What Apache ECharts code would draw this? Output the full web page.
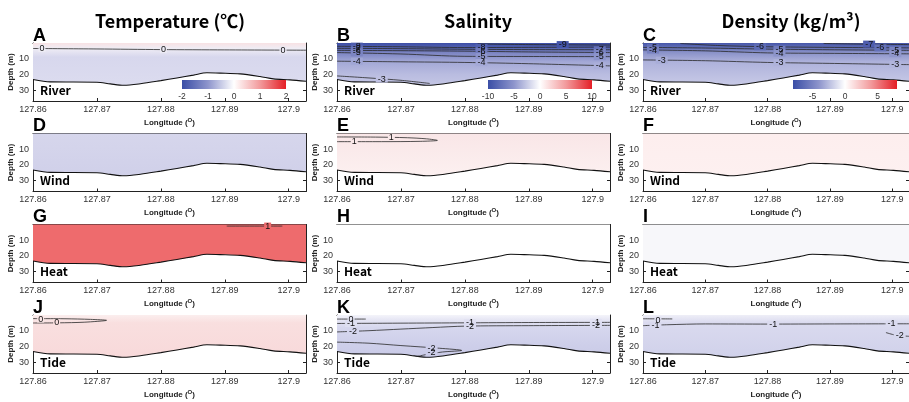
<!DOCTYPE html>
<html>
<head>
<meta charset="utf-8">
<script src="https://cdn.jsdelivr.net/npm/echarts@6/dist/echarts.min.js"></script>
<style>html,body{margin:0;padding:0;background:#fff}#chart{width:909px;height:402px}</style>
</head>
<body>
<div id="chart"></div>
<script>
// bathymetry along the section
const lon = [127.86, 127.8627, 127.87, 127.8721, 127.8742, 127.8768, 127.88, 127.8825, 127.8851, 127.8872, 127.8893, 127.8924, 127.8955, 127.8976, 127.9002, 127.9027]
const bottomDepth = [23.3, 24.8, 25.0, 26.1, 27.0, 26.0, 24.0, 22.3, 20.5, 19.0, 19.2, 19.7, 21.4, 22.9, 23.5, 24.4]
const lonMin = 127.86, lonMax = 127.9027
const depthMax = 37

const colTitles = ['Temperature (℃)', 'Salinity', 'Density (kg/m³)']
const letters = ['A', 'B', 'C', 'D', 'E', 'F', 'G', 'H', 'I', 'J', 'K', 'L']
const forcing = ['River', 'Wind', 'Heat', 'Tide']

// colorbar ranges and labelled ticks
const cbarRange = [[-2, 2], [-10, 10], [-8, 8]]
const cbarTicks = [[-2, -1, 0, 1, 2], [-10, -5, 0, 5, 10], [-5, 0, 5]]

// contour lines [lon, depth]
const tA0 = [[127.86, 3.5], [127.87, 3.8], [127.88, 4.2], [127.89, 4.4], [127.9027, 4.6]]
const tA_lab = [['0', 127.8614, 3.4], ['0', 127.8804, 4.2], ['0', 127.8991, 4.5]]

const sB9 = [[127.882, 0.6], [127.89, 1.0], [127.9027, 1.3]]
const sB8 = [[127.86, 2.1], [127.87, 2.4], [127.88, 2.9], [127.89, 2.8], [127.9027, 2.6]]
const sB7 = [[127.86, 3.4], [127.87, 3.6], [127.88, 4.0], [127.89, 4.2], [127.9027, 4.3]]
const sB6 = [[127.86, 4.7], [127.87, 4.9], [127.88, 5.2], [127.89, 5.7], [127.9027, 6.1]]
const sB5 = [[127.86, 6.1], [127.87, 7.0], [127.88, 8.5], [127.89, 8.6], [127.9027, 8.7]]
const sB4 = [[127.86, 11.6], [127.87, 12.0], [127.88, 12.4], [127.89, 13.2], [127.9027, 14.6]]
const sB3 = [[127.86, 21.0], [127.865, 22.3], [127.87, 23.8], [127.8745, 25.8]]
const sB_lab = [['-8', 127.8631, 2.0], ['-7', 127.8631, 3.4], ['-6', 127.8631, 4.8], ['-5', 127.8631, 6.3], ['-4', 127.8631, 11.6],
  ['-8', 127.8826, 2.9], ['-6', 127.8826, 5.2], ['-5', 127.8826, 8.6], ['-4', 127.8826, 12.5],
  ['-7', 127.9011, 4.3], ['-6', 127.9011, 6.1], ['-5', 127.9011, 8.7], ['-4', 127.9011, 14.5],
  ['-9', 127.8953, 1.0], ['-3', 127.867, 23.0]]

const dC7 = [[127.889, 0.3], [127.895, 0.7], [127.9027, 1.0]]
const dC6 = [[127.866, 0.3], [127.872, 1.6], [127.88, 2.4], [127.89, 2.8], [127.9027, 3.1]]
const dC5 = [[127.86, 2.8], [127.87, 3.2], [127.88, 3.9], [127.89, 4.3], [127.9027, 4.7]]
const dC4 = [[127.86, 4.4], [127.87, 5.0], [127.88, 6.3], [127.89, 6.6], [127.9027, 6.9]]
const dC3 = [[127.86, 10.8], [127.87, 11.3], [127.88, 12.4], [127.89, 13.0], [127.9027, 13.8]]
const dC_lab = [['-5', 127.8616, 2.8], ['-4', 127.8616, 4.5], ['-3', 127.863, 11.0],
  ['-6', 127.8788, 2.4], ['-5', 127.8819, 4.0], ['-4', 127.8819, 6.4], ['-3', 127.8819, 12.5],
  ['-7', 127.8963, 0.7], ['-6', 127.8981, 3.1], ['-5', 127.9005, 4.6], ['-4', 127.9005, 6.8], ['-3', 127.9005, 13.7]]

const sE1 = [[127.86, 2.2], [127.866, 2.3], [127.871, 2.7], [127.874, 3.4], [127.8757, 4.4], [127.873, 5.0], [127.867, 5.2], [127.86, 5.2]]
const sE_lab = [['1', 127.8685, 2.5], ['1', 127.8627, 5.2]]

const tG1 = [[127.8903, 1.0], [127.899, 1.0]]
const tG_lab = [['1', 127.8967, 1.0]]

const tJ0 = [[127.86, 2.3], [127.865, 2.4], [127.869, 2.8], [127.8715, 3.4], [127.868, 4.6], [127.864, 5.0], [127.86, 5.1]]
const tJ_lab = [['0', 127.8612, 2.6], ['0', 127.8637, 5.0]]

const sK0 = [[127.86, 2.6], [127.8645, 2.6]]
const sK1 = [[127.86, 5.4], [127.87, 5.2], [127.88, 5.0], [127.89, 4.8], [127.9027, 4.7]]
const sK2 = [[127.86, 10.8], [127.865, 10.0], [127.87, 9.0], [127.875, 8.0], [127.88, 7.1], [127.89, 6.8], [127.9027, 6.6]]
const sK2b = [[127.86, 17.3], [127.865, 18.0], [127.87, 19.5], [127.876, 21.2], [127.8795, 22.6], [127.8765, 23.6], [127.874, 25.2], [127.8725, 26.5]]
const sK_lab = [['0', 127.8622, 3.0], ['-1', 127.8622, 5.4], ['-2', 127.8625, 10.8], ['-1', 127.8808, 5.0], ['-2', 127.8808, 7.1],
  ['-1', 127.9005, 4.7], ['-2', 127.9005, 6.6], ['-2', 127.8748, 21.2], ['-2', 127.8748, 24.0]]

const dL0 = [[127.86, 2.4], [127.8647, 2.5]]
const dL1 = [[127.86, 6.8], [127.864, 6.2], [127.87, 5.7], [127.88, 5.8], [127.89, 5.7], [127.9027, 5.6]]
const dL2 = [[127.899, 11.2], [127.9005, 12.8], [127.9027, 13.6]]
const dL_lab = [['0', 127.8624, 3.4], ['-1', 127.862, 6.8], ['-1', 127.8809, 5.9], ['-1', 127.8999, 5.7], ['-2', 127.9012, 13.0]]

// fill colour stops [depth, colour] for each panel
const panelFill = [
  [[0, '#f8e2e4'], [3.5, '#efedf5'], [9, '#d7d7ed'], [27, '#dcdcef']],
  [[0, '#3d4ea6'], [3, '#5362b0'], [6, '#7a83c2'], [12, '#a3a8d6'], [20, '#b9bce0'], [27, '#c4c6e5']],
  [[0, '#4656aa'], [3, '#6370b6'], [6, '#8a92c9'], [12, '#aeb2db'], [27, '#c8cae7']],
  [[0, '#d6d6ec'], [27, '#d0d0e9']],
  [[0, '#f9e6e7'], [27, '#fcf0f0']],
  [[0, '#fdeeee'], [27, '#fdf0f0']],
  [[0, '#ee6b6d'], [27, '#ee6b6d']],
  [[0, '#ffffff'], [27, '#ffffff']],
  [[0, '#f7f7fa'], [27, '#f7f7fa']],
  [[0, '#fbeeee'], [5, '#f9dfdf'], [27, '#f8d9da']],
  [[0, '#f4f4fa'], [3, '#e6e6f4'], [8, '#d6d7ee'], [20, '#cdcee9'], [27, '#c9cae7']],
  [[0, '#eeeef7'], [5, '#dadaef'], [27, '#d0d1ea']]
]

const panelLines = [[tA0], [sB9, sB8, sB7, sB6, sB5, sB4, sB3], [dC7, dC6, dC5, dC4, dC3],
  [], [sE1], [], [tG1], [], [], [tJ0], [sK0, sK1, sK2, sK2b], [dL0, dL1, dL2]]
const panelLabels = [tA_lab, sB_lab, dC_lab, [], sE_lab, [], tG_lab, [], [], tJ_lab, sK_lab, dL_lab]

const colLeft = [33, 337, 643]
const rowTop = [43, 133.5, 224.5, 315]
const plotW = 273, plotH = 58
const tickFont = 'Liberation Sans, Arial, sans-serif'
const krFont = "'Noto Sans CJK KR', 'Noto Sans', sans-serif"

const maxBottom = Math.max(...bottomDepth)

function hexRgb(h) {
  return [parseInt(h.slice(1, 3), 16), parseInt(h.slice(3, 5), 16), parseInt(h.slice(5, 7), 16)]
}
function colorAt(stops, d) {
  if (d <= stops[0][0]) return stops[0][1]
  for (let k = 1; k < stops.length; k++) {
    if (d <= stops[k][0]) {
      const t = (d - stops[k - 1][0]) / (stops[k][0] - stops[k - 1][0])
      const a = hexRgb(stops[k - 1][1]), b = hexRgb(stops[k][1])
      return 'rgb(' + a.map((v, j) => Math.round(v + (b[j] - v) * t)).join(',') + ')'
    }
  }
  return stops[stops.length - 1][1]
}
function vGrad(stops) {
  return new echarts.graphic.LinearGradient(0, 0, 0, 1,
    stops.map(s => ({offset: Math.min(1, s[0] / maxBottom), color: s[1]})))
}

const chart = echarts.init(document.getElementById('chart'))
const option = {animation: false, grid: [], xAxis: [], yAxis: [], series: [], graphic: []}

const lineAx = {show: true, onZero: false, lineStyle: {color: '#222', width: 1}}

letters.forEach((letter, i) => {
  const r = Math.floor(i / 3), c = i % 3
  option.grid.push({left: colLeft[c], top: rowTop[r], width: plotW, height: plotH})
  option.xAxis.push({
    type: 'value', gridIndex: i, min: lonMin, max: lonMax, interval: 0.01, position: 'bottom',
    axisLine: lineAx, splitLine: {show: false},
    axisTick: {inside: true, length: 3, lineStyle: {color: '#222'}},
    axisLabel: {showMaxLabel: false, fontSize: 9, color: '#333', fontFamily: tickFont, margin: 4},
    name: 'Longitude ({s|O})', nameLocation: 'middle', nameGap: 16,
    nameTextStyle: {fontSize: 8, fontWeight: 'bold', color: '#222', fontFamily: tickFont,
      rich: {s: {fontSize: 6, fontWeight: 'bold', color: '#222', verticalAlign: 'top', padding: [0, 0, 5, 0]}}}
  })
  option.xAxis.push({
    type: 'value', gridIndex: i, min: lonMin, max: lonMax, interval: 0.01, position: 'top',
    axisLine: lineAx, splitLine: {show: false},
    axisTick: {inside: true, length: 3, lineStyle: {color: '#222'}}, axisLabel: {show: false}
  })
  option.yAxis.push({
    type: 'value', gridIndex: i, min: 0, max: depthMax, interval: 10, inverse: true, position: 'left',
    axisLine: lineAx, splitLine: {show: false},
    axisTick: {inside: true, length: 3, lineStyle: {color: '#222'}},
    axisLabel: {showMinLabel: false, showMaxLabel: false, fontSize: 9, color: '#333', fontFamily: tickFont, margin: 4},
    name: 'Depth (m)', nameLocation: 'middle', nameRotate: 90, nameGap: 12,
    nameTextStyle: {fontSize: 8, fontWeight: 'bold', color: '#222', fontFamily: tickFont}
  })
  option.yAxis.push({
    type: 'value', gridIndex: i, min: 0, max: depthMax, interval: 10, inverse: true, position: 'right',
    axisLine: lineAx, splitLine: {show: false},
    axisTick: {inside: true, length: 3, lineStyle: {color: '#222'}}, axisLabel: {show: false}
  })

  // water column fill down to the bottom line
  option.series.push({
    type: 'line', xAxisIndex: 2 * i, yAxisIndex: 2 * i, silent: true, z: 2,
    data: lon.map((x, k) => [x, bottomDepth[k]]),
    smooth: 0.3, symbol: 'none',
    lineStyle: {color: '#111', width: 1.1},
    areaStyle: {origin: 'start', color: vGrad(panelFill[i]), opacity: 1}
  })
  panelLines[i].forEach(l => {
    option.series.push({
      type: 'line', xAxisIndex: 2 * i, yAxisIndex: 2 * i, silent: true, z: 3,
      data: l, smooth: 0.3, symbol: 'none', lineStyle: {color: '#2a2a2a', width: 0.8}
    })
  })
  if (panelLabels[i].length) {
    // contour labels: a small box in the local fill colour breaks the line under the text
    option.series.push({
      type: 'scatter', xAxisIndex: 2 * i, yAxisIndex: 2 * i, silent: true, z: 4,
      symbol: 'rect', itemStyle: {opacity: 1},
      data: panelLabels[i].map(d => ({
        value: [d[1], d[2]], name: d[0],
        symbolSize: [d[0].length * 5 + 2, 7],
        itemStyle: {color: colorAt(panelFill[i], d[2]), opacity: 1}
      })),
      label: {show: true, position: 'inside', formatter: p => p.name, fontSize: 9, color: '#111',
        fontFamily: tickFont, textBorderWidth: 0}
    })
  }

  option.graphic.push({
    type: 'text', left: colLeft[c], top: rowTop[r] - 16,
    style: {text: letter, font: 'bold 18px Liberation Sans, Arial, sans-serif', fill: '#000'}
  })
  option.graphic.push({
    type: 'text', left: colLeft[c] + 7, top: rowTop[r] + 41,
    style: {text: forcing[r], font: 'bold 12px ' + krFont, fill: '#000'}
  })
})

// colour bars in the first row
const cbarLeft = [182, 488, 793]
cbarRange.forEach((rg, k) => {
  const gi = 12 + k
  option.grid.push({left: cbarLeft[k], top: 80, width: 104, height: 9})
  option.xAxis.push({
    type: 'value', gridIndex: gi, min: rg[0], max: rg[1], interval: 1,
    axisLine: {show: false}, axisTick: {show: false}, splitLine: {show: false},
    axisLabel: {fontSize: 8.5, color: '#333', fontFamily: tickFont, margin: 3,
      formatter: v => cbarTicks[k].indexOf(v) >= 0 ? String(v) : ''}
  })
  option.yAxis.push({type: 'value', gridIndex: gi, min: 0, max: 1, show: false})
  option.series.push({
    type: 'line', xAxisIndex: 24 + k, yAxisIndex: 24 + k, silent: true, z: 6,
    data: [[rg[0], 1], [rg[1], 1]], symbol: 'none', lineStyle: {width: 0},
    areaStyle: {origin: 'start', opacity: 1, color: new echarts.graphic.LinearGradient(0, 0, 1, 0, [
      {offset: 0, color: '#3a4ea6'}, {offset: 0.25, color: '#8e95cc'}, {offset: 0.5, color: '#ffffff'},
      {offset: 0.75, color: '#f29a9c'}, {offset: 1, color: '#e41f26'}])}
  })
})

const titleX = [170, 478, 791]
colTitles.forEach((t, k) => {
  option.graphic.push({
    type: 'text', x: titleX[k], y: 21,
    style: {text: t, font: 'bold 18px ' + krFont, fill: '#000', align: 'center', verticalAlign: 'middle'}
  })
})

chart.setOption(option)
</script>
</body>
</html>
